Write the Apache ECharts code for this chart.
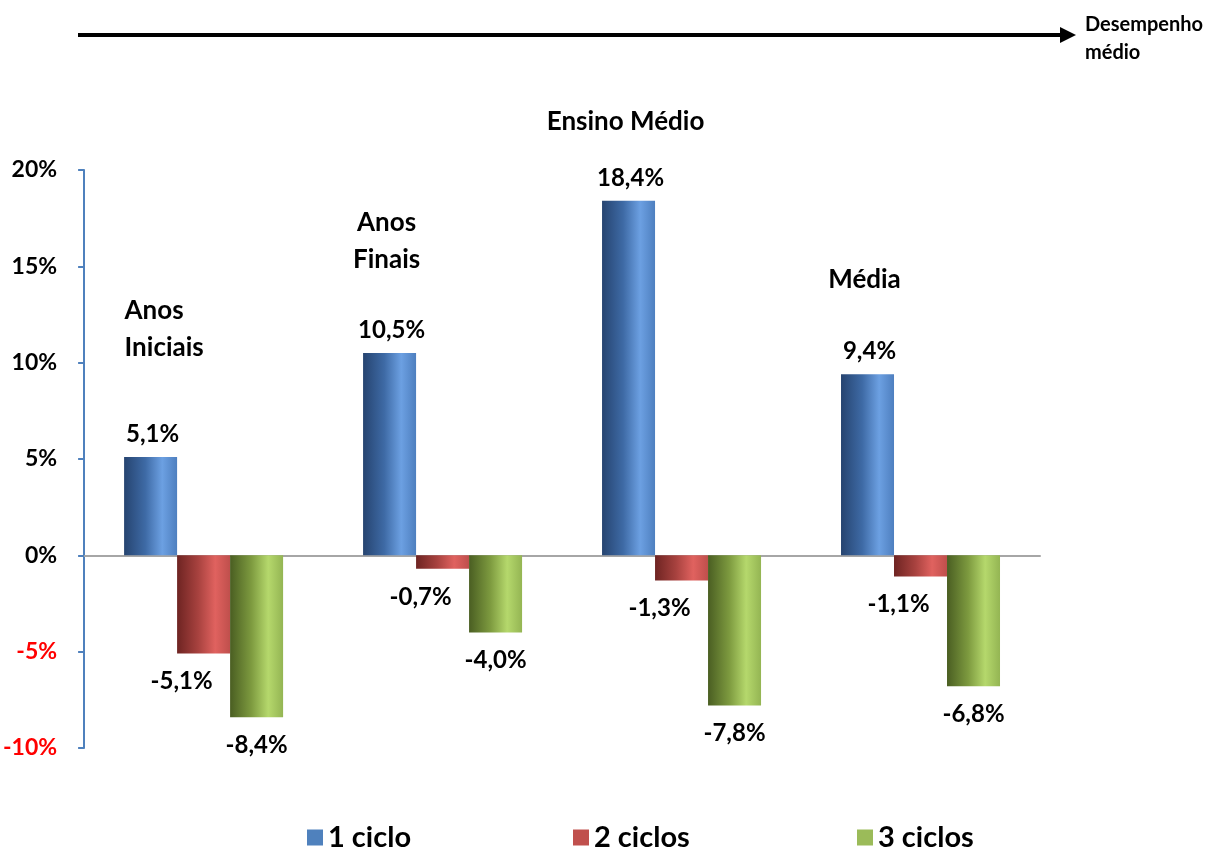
<!DOCTYPE html>
<html><head><meta charset="utf-8">
<script src="https://cdn.jsdelivr.net/npm/echarts@6/dist/echarts.min.js"></script>
<style>html,body{margin:0;padding:0;background:#fff}#c{width:1219px;height:849px}</style>
</head><body><div id="c"></div>
<script>
const categories = ['Anos Iniciais', 'Anos Finais', 'Ensino Médio', 'Média'];
const categoryLabels = ['Anos\nIniciais', 'Anos\nFinais', 'Ensino Médio', 'Média'];
const categoryLabelY = [11.7, 16.3, 22.5, 14.3];
const seriesNames = ['1 ciclo', '2 ciclos', '3 ciclos'];
const ciclo1 = [5.1, 10.5, 18.4, 9.4];
const ciclo2 = [-5.1, -0.7, -1.3, -1.1];
const ciclo3 = [-8.4, -4.0, -7.8, -6.8];
const yTicks = { min: -10, max: 20, interval: 5 };
const arrowText = 'Desempenho\nmédio';

const FONT = 'Lato';
const chart = echarts.init(document.getElementById('c'));
const grad = (c0, c1, c2, c3) => new echarts.graphic.LinearGradient(0, 0, 1, 0, [
  {offset: 0, color: c0}, {offset: 0.4, color: c1}, {offset: 0.72, color: c2}, {offset: 1, color: c3}
]);
const flat = ['#4f81bd', '#c0504d', '#9bbb59'];
const fmt = v => v.toFixed(1).replace('.', ',') + '%';
const lblStyle = {fontFamily: FONT, fontWeight: 'bold', fontSize: 24, color: '#000'};

function barSeries(name, data, fill, pos, offset, dist) {
  return {
    name, type: 'bar', data, barWidth: 53, barGap: '0%',
    itemStyle: {color: fill},
    label: Object.assign({show: true, position: pos, distance: dist, offset: offset,
      formatter: p => fmt(p.value)}, lblStyle)
  };
}

const legendBase = {top: 818, itemWidth: 16, itemHeight: 16, icon: 'rect', itemGap: 10,
  textStyle: {fontFamily: FONT, fontWeight: 'bold', fontSize: 29, color: '#000'}};
const legendAt = (i, left) => Object.assign({}, legendBase, {left,
  data: [{name: seriesNames[i], itemStyle: {color: flat[i]}}]});

const catLabel = {show: true, position: 'top', distance: 0, verticalAlign: 'middle',
  fontFamily: FONT, fontWeight: 'bold', fontSize: 26, color: '#000', opacity: 1,
  textBorderWidth: 0, lineHeight: 37, formatter: p => categoryLabels[p.dataIndex]};

const option = {
  animation: false,
  color: flat,
  grid: {left: 82, right: 179, top: 170, bottom: 101, containLabel: false},
  legend: [legendAt(0, 302), legendAt(1, 568), legendAt(2, 852)],
  xAxis: {
    type: 'category', data: categories,
    axisLine: {onZero: true, lineStyle: {color: '#a6a6a6', width: 2}},
    axisTick: {show: false}, axisLabel: {show: false}, splitLine: {show: false}
  },
  yAxis: {
    type: 'value', min: yTicks.min, max: yTicks.max, interval: yTicks.interval,
    axisLine: {show: true, onZero: false, lineStyle: {color: '#4f81bd', width: 2}},
    axisTick: {show: true, length: 6, lineStyle: {color: '#4f81bd', width: 2}},
    splitLine: {show: false},
    axisLabel: {margin: 27, fontFamily: FONT, fontWeight: 'bold', fontSize: 23,
      color: v => (v < 0 ? '#ff0000' : '#000'), formatter: v => v + '%'}
  },
  series: [
    barSeries(seriesNames[0], ciclo1, grad('#264470', '#3e6aa5', '#6ca0e2', '#4e7fbf'), 'top', [2, 0], 11),
    barSeries(seriesNames[1], ciclo2, grad('#6e2422', '#a8423f', '#e0625f', '#bf4f4c'), 'bottom', [-22, 0], 16),
    barSeries(seriesNames[2], ciclo3, grad('#4a5e22', '#7d9a3f', '#b5d86c', '#94b553'), 'bottom', [0, 0], 16),
    {
      type: 'scatter', symbolSize: 1, silent: true, clip: false, z: 10,
      itemStyle: {color: 'rgba(0,0,0,0)'},
      data: categories.map((c, i) => ({
        value: [c, categoryLabelY[i]],
        label: Object.assign({}, catLabel, i === 0 ? {align: 'left', offset: [-79, 0]} : {offset: [-56, 0]})
      })),
      label: catLabel
    }
  ],
  graphic: [
    {type: 'line', shape: {x1: 78, y1: 35, x2: 1062, y2: 35}, style: {stroke: '#000', lineWidth: 4}},
    {type: 'polygon', shape: {points: [[1060, 27], [1076, 35], [1060, 43]]}, style: {fill: '#000'}},
    {type: 'text', left: 1085, top: 11, style: {text: arrowText, fontFamily: FONT, fontWeight: 'bold',
      fontSize: 20, lineHeight: 28, fill: '#000'}}
  ]
};
chart.setOption(option);
</script></body></html>
